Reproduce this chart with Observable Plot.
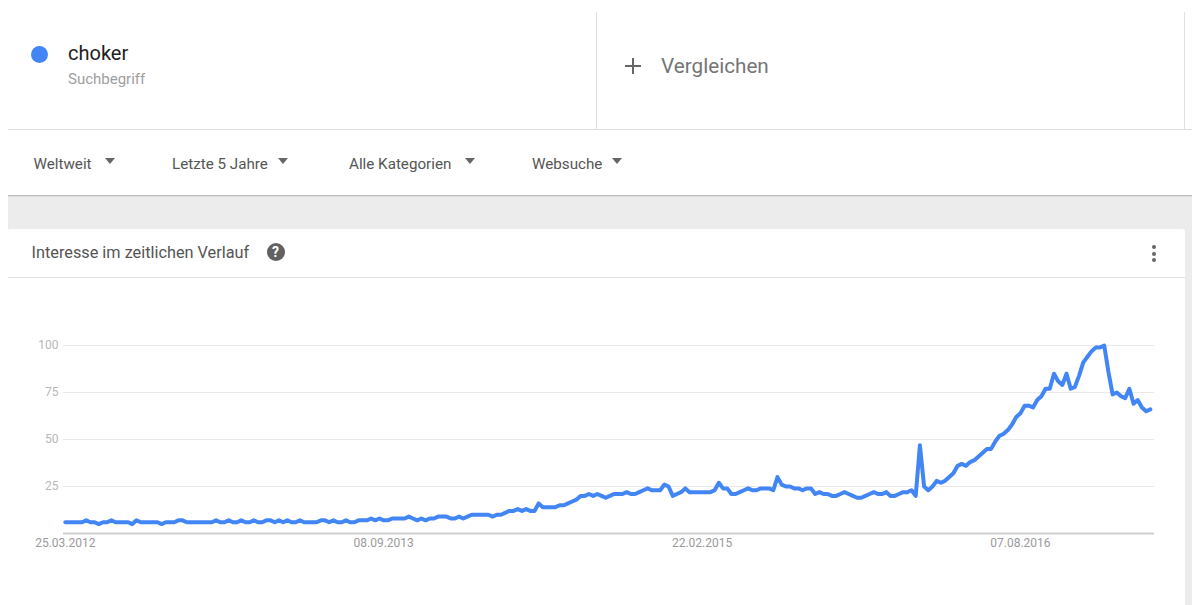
<!DOCTYPE html>
<html lang="de">
<head>
<meta charset="utf-8">
<title>choker</title>
<script src="https://cdn.jsdelivr.net/npm/d3@7"></script>
<script src="https://cdn.jsdelivr.net/npm/@observablehq/plot@0.6"></script>
<style>
  html,body{margin:0;padding:0;background:#fff;width:1192px;height:605px;overflow:hidden;font-family:Roboto,sans-serif}
  .a{position:absolute}
  .t{position:absolute;white-space:nowrap;line-height:1;transform:translateY(-50%)}
  .tri{position:absolute;width:0;height:0;border-left:5.5px solid transparent;border-right:5.5px solid transparent;border-top:6px solid #666}
  #chart{position:absolute;left:0;top:300px}
  #chart svg{display:block}
</style>
</head>
<body>
<div class="a" style="left:8px;top:196px;width:1184px;height:409px;background:#ececec"></div>
<div class="a" style="left:8px;top:129px;width:1184px;height:1px;background:#dedede"></div>
<div class="a" style="left:8px;top:195px;width:1184px;height:1px;background:#bdbdbd"></div>
<div class="a" style="left:8px;top:196px;width:1184px;height:1px;background:#dcdcdc"></div>
<div class="a" style="left:596px;top:12px;width:1px;height:117px;background:#e0e0e0"></div>
<div class="a" style="left:1184px;top:12px;width:1px;height:117px;background:#e0e0e0"></div>
<div class="a" style="left:8px;top:229px;width:1177px;height:376px;background:#fff;border-radius:2px 2px 0 0"></div>
<div class="a" style="left:8px;top:277px;width:1177px;height:1px;background:#e0e0e0"></div>

<div class="a" style="left:30.5px;top:45.5px;width:17px;height:17px;border-radius:50%;background:#4285f4"></div>
<div id="term" class="t" style="left:68px;top:53px;font-size:20px;color:#212121"></div>
<div id="termType" class="t" style="left:68px;top:78.5px;font-size:15px;color:#9e9e9e"></div>
<div class="a" style="left:625px;top:65px;width:16px;height:2px;background:#666"></div>
<div class="a" style="left:632px;top:58px;width:2px;height:16px;background:#666"></div>
<div id="compare" class="t" style="left:661px;top:66px;font-size:20.7px;color:#757575"></div>
<div id="filters"></div>
<div id="cardTitle" class="t" style="left:31.5px;top:253px;font-size:16.3px;color:#555"></div>
<div class="a" style="left:266.5px;top:243px;width:18px;height:18px;border-radius:50%;background:#616161;color:#fff;font-size:14px;font-weight:700;line-height:18px;text-align:center">?</div>
<div class="a" style="left:1151.5px;top:245px;width:4px;height:4px;border-radius:50%;background:#666"></div>
<div class="a" style="left:1151.5px;top:251.5px;width:4px;height:4px;border-radius:50%;background:#666"></div>
<div class="a" style="left:1151.5px;top:258px;width:4px;height:4px;border-radius:50%;background:#666"></div>
<div id="chart"></div>

<script>
const term = "choker";
const termType = "Suchbegriff";
const compareLabel = "Vergleichen";
const cardTitle = "Interesse im zeitlichen Verlauf";
const filterLabels = ["Weltweit", "Letzte 5 Jahre", "Alle Kategorien", "Websuche"];
const yTicks = [25, 50, 75, 100];
const xTickLabels = ["2012-03-25", "2013-09-08", "2015-02-22", "2016-08-07"];
const firstWeek = "2012-03-25";
const xDomain = ["2012-03-22", "2017-03-19"];

// Weekly search interest
const interest = [
  6,6,6,6,6,7,6,6,5,6,6,7,6,6,6,6,5,7,6,6,
  6,6,6,5,6,6,6,7,7,6,6,6,6,6,6,6,7,6,6,7,
  6,6,7,6,6,7,6,6,7,7,6,7,6,7,6,6,7,6,6,6,
  6,7,7,6,7,6,6,7,6,6,7,7,7,8,7,8,7,7,8,8,
  8,8,9,8,7,8,7,8,8,9,9,9,8,8,9,8,9,10,10,10,
  10,10,9,10,10,11,12,12,13,12,13,12,12,16,14,14,14,14,15,15,
  16,17,18,20,20,21,20,21,20,19,20,21,21,21,22,21,21,22,23,24,
  23,23,23,26,25,20,21,22,24,22,22,22,22,22,22,23,27,24,24,21,
  21,22,23,24,23,23,24,24,24,23,30,26,25,25,24,24,23,24,24,21,
  22,21,21,20,20,21,22,21,20,19,19,20,21,22,21,21,22,20,20,21,
  22,22,23,20,47,25,23,25,28,27,28,30,32,36,37,36,38,39,41,43,
  45,45,49,52,53,55,58,62,64,68,68,67,71,73,77,77,85,81,79,85,
  77,78,84,91,94,97,99,99,100,86,74,75,73,72,77,69,71,67,65,66
];

const filterX = [33.5, 172, 349, 532];
const filterArrowX = [104.5, 277.5, 464.5, 611.5];

document.getElementById("term").textContent = term;
document.getElementById("termType").textContent = termType;
document.getElementById("compare").textContent = compareLabel;
document.getElementById("cardTitle").textContent = cardTitle;
const filtersEl = document.getElementById("filters");
filterLabels.forEach((label, i) => {
  const t = document.createElement("div");
  t.className = "t";
  t.style.cssText = `left:${filterX[i]}px;top:164.5px;font-size:15.2px;color:#555`;
  t.textContent = label;
  filtersEl.appendChild(t);
  const a = document.createElement("div");
  a.className = "tri";
  a.style.cssText = `left:${filterArrowX[i]}px;top:158px`;
  filtersEl.appendChild(a);
});

const start = new Date(firstWeek);
const rows = interest.map((value, i) => ({date: d3.utcDay.offset(start, i * 7), value}));

const fmt = d3.utcFormat("%d.%m.%Y");
const plot = Plot.plot({
  width: 1192,
  height: 270,
  marginLeft: 63,
  marginRight: 38,
  marginTop: 45,
  marginBottom: 37,
  style: {fontFamily: "Roboto, sans-serif", background: "transparent", overflow: "visible"},
  x: {type: "utc", domain: xDomain.map(d => new Date(d))},
  y: {domain: [0, 100]},
  marks: [
    Plot.gridY(yTicks, {stroke: "#e9e9e9", strokeOpacity: 1, strokeWidth: 1.2}),
    Plot.ruleY([0], {stroke: "#cfcfcf", strokeWidth: 2}),
    Plot.axisY({ticks: yTicks, tickSize: 0, tickPadding: 5, label: null, fontSize: 12, color: "#b8b8b8"}),
    Plot.axisX({ticks: xTickLabels.map(d => new Date(d)), tickFormat: fmt, tickSize: 0, tickPadding: 5, label: null, fontSize: 12, color: "#9a9a9a"}),
    Plot.line(rows, {x: "date", y: "value", stroke: "#4285f4", strokeWidth: 4, strokeLinejoin: "round", strokeLinecap: "round"})
  ]
});
document.getElementById("chart").appendChild(plot);
</script>
</body>
</html>
